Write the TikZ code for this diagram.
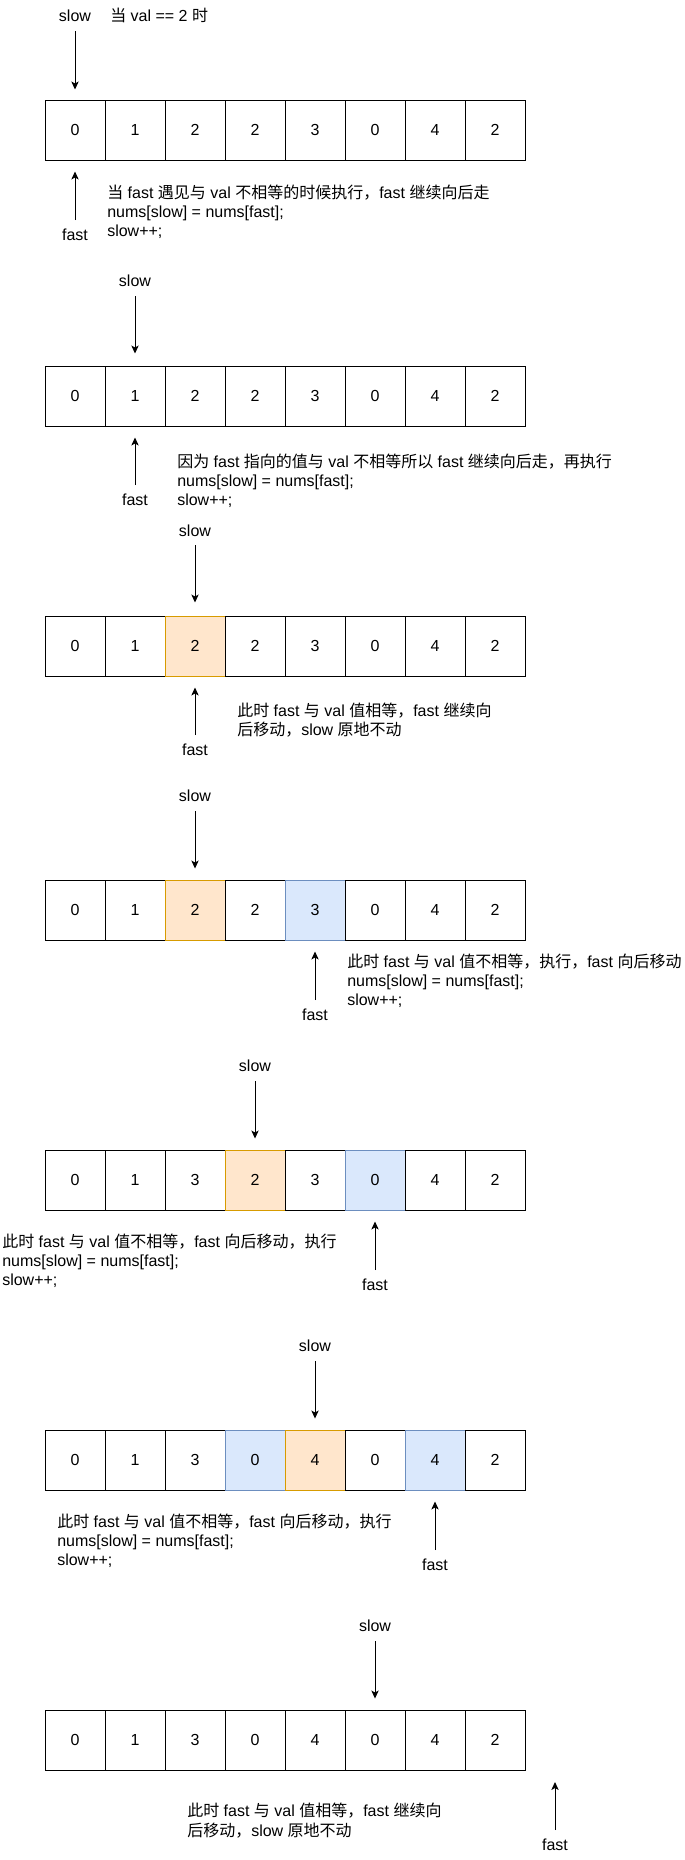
\documentclass[tikz,border=0pt]{standalone}
\usepackage{fontspec}
\setmainfont{Liberation Sans}
\newfontfamily\cjk{Noto Sans CJK SC}
\usetikzlibrary{arrows.meta}
\newcommand{\zh}[1]{{\cjk #1}}
\definecolor{orfill}{HTML}{FFE6CC}
\definecolor{orline}{HTML}{D79B00}
\definecolor{blfill}{HTML}{DAE8FC}
\definecolor{blline}{HTML}{6C8EBF}
\newcommand{\cellrow}[3]{%
  \foreach \v/\s [count=\i from 0] in {#3} {
    \node[\s] (#1-\i) at ({75+60*\i},{#2+30}) {\v};
  }}
\begin{document}
\begin{tikzpicture}[x=0.75pt,y=-0.75pt,
  font=\fontsize{12pt}{14.4pt}\selectfont,
  cell/.style={draw=black, line width=0.75pt, minimum width=45pt, minimum height=45pt, inner sep=0pt},
  hlo/.style={cell, fill=orfill, draw=orline},
  hlb/.style={cell, fill=blfill, draw=blline},
  ptr/.style={-{Stealth[length=6pt,width=5.5pt,inset=1.5pt]}, line width=0.75pt},
  lbl/.style={inner sep=0pt, anchor=base},
  note/.style={inner sep=0pt, anchor=base west, align=left}]
\useasboundingbox (0,0) rectangle (685,1860);

% ---------- section 1 ----------
\node[lbl] (s1) at (75,21.5) {slow};
\node[inner sep=0pt, anchor=base west] (t1) at (110,21.5) {\zh{当} val == 2 \zh{时}};
\cellrow{r1}{100}{0/cell,1/cell,2/cell,2/cell,3/cell,0/cell,4/cell,2/cell}
\coordinate (s1t) at (75,31);
\draw[ptr, shorten >=7.5pt] (s1t) -- (r1-0.north);
\coordinate (f1t) at (75,220);
\draw[ptr, shorten >=8.25pt] (f1t) -- (r1-0.south);
\node[lbl] (f1) at (75,240.8) {fast};
\node[note] (n1) at (107,236.9) {\zh{当} fast \zh{遇见与} val \zh{不相等的时候执行，}fast \zh{继续向后走}\\nums[slow] = nums[fast];\\slow++;};

% ---------- section 2 ----------
\node[lbl] (s2) at (135,286.5) {slow};
\cellrow{r2}{366}{0/cell,1/cell,2/cell,2/cell,3/cell,0/cell,4/cell,2/cell}
\coordinate (s2t) at (135,296);
\draw[ptr, shorten >=9pt] (s2t) -- (r2-1.north);
\coordinate (f2t) at (135,485);
\draw[ptr, shorten >=8.25pt] (f2t) -- (r2-1.south);
\node[lbl] (f2) at (135,505.8) {fast};
\node[note] (n2) at (177,505.9) {\zh{因为} fast \zh{指向的值与} val \zh{不相等所以} fast \zh{继续向后走，再执行}\\nums[slow] = nums[fast];\\slow++;};

% ---------- section 3 ----------
\node[lbl] (s3) at (195,536.5) {slow};
\cellrow{r3}{616}{0/cell,1/cell,2/hlo,2/cell,3/cell,0/cell,4/cell,2/cell}
\coordinate (s3t) at (195,545);
\draw[ptr, shorten >=9.75pt] (s3t) -- (r3-2.north);
\coordinate (f3t) at (195,735);
\draw[ptr, shorten >=8.25pt] (f3t) -- (r3-2.south);
\node[lbl] (f3) at (195,755.8) {fast};
\node[note] (n3) at (237,735.7) {\zh{此时} fast \zh{与} val \zh{值相等，}fast \zh{继续向}\\\zh{后移动，}slow \zh{原地不动}};

% ---------- section 4 ----------
\node[lbl] (s4) at (195,801.5) {slow};
\cellrow{r4}{880}{0/cell,1/cell,2/hlo,2/cell,3/hlb,0/cell,4/cell,2/cell}
\coordinate (s4t) at (195,811);
\draw[ptr, shorten >=8.25pt] (s4t) -- (r4-2.north);
\coordinate (f4t) at (315,1000);
\draw[ptr, shorten >=8.25pt] (f4t) -- (r4-4.south);
\node[lbl] (f4) at (315,1020.8) {fast};
\node[note] (n4) at (347,1005.9) {\zh{此时} fast \zh{与} val \zh{值不相等，执行，}fast \zh{向后移动}\\nums[slow] = nums[fast];\\slow++;};

% ---------- section 5 ----------
\node[lbl] (s5) at (255,1071.5) {slow};
\cellrow{r5}{1150}{0/cell,1/cell,3/cell,2/hlo,3/cell,0/hlb,4/cell,2/cell}
\coordinate (s5t) at (255,1081);
\draw[ptr, shorten >=8.25pt] (s5t) -- (r5-3.north);
\coordinate (f5t) at (375,1270);
\draw[ptr, shorten >=8.25pt] (f5t) -- (r5-5.south);
\node[lbl] (f5) at (375,1290.8) {fast};
\node[note] (n5) at (2,1285.9) {\zh{此时} fast \zh{与} val \zh{值不相等，}fast \zh{向后移动，执行}\\nums[slow] = nums[fast];\\slow++;};

% ---------- section 6 ----------
\node[lbl] (s6) at (315,1351.5) {slow};
\cellrow{r6}{1430}{0/cell,1/cell,3/cell,0/hlb,4/hlo,0/cell,4/hlb,2/cell}
\coordinate (s6t) at (315,1361);
\draw[ptr, shorten >=8.25pt] (s6t) -- (r6-4.north);
\coordinate (f6t) at (435,1550);
\draw[ptr, shorten >=8.25pt] (f6t) -- (r6-6.south);
\node[lbl] (f6) at (435,1570.8) {fast};
\node[note] (n6) at (57,1565.9) {\zh{此时} fast \zh{与} val \zh{值不相等，}fast \zh{向后移动，执行}\\nums[slow] = nums[fast];\\slow++;};

% ---------- section 7 ----------
\node[lbl] (s7) at (375,1631.5) {slow};
\cellrow{r7}{1710}{0/cell,1/cell,3/cell,0/cell,4/cell,0/cell,4/cell,2/cell}
\coordinate (s7t) at (375,1641);
\draw[ptr, shorten >=8.25pt] (s7t) -- (r7-5.north);
\coordinate (f7t) at (555,1830);
\coordinate (f7h) at (555,1782);
\draw[ptr] (f7t) -- (f7h);
\node[lbl] (f7) at (555,1850.8) {fast};
\node[note] (n7) at (187,1836) {\zh{此时} fast \zh{与} val \zh{值相等，}fast \zh{继续向}\\\zh{后移动，}slow \zh{原地不动}};
\end{tikzpicture}
\end{document}
